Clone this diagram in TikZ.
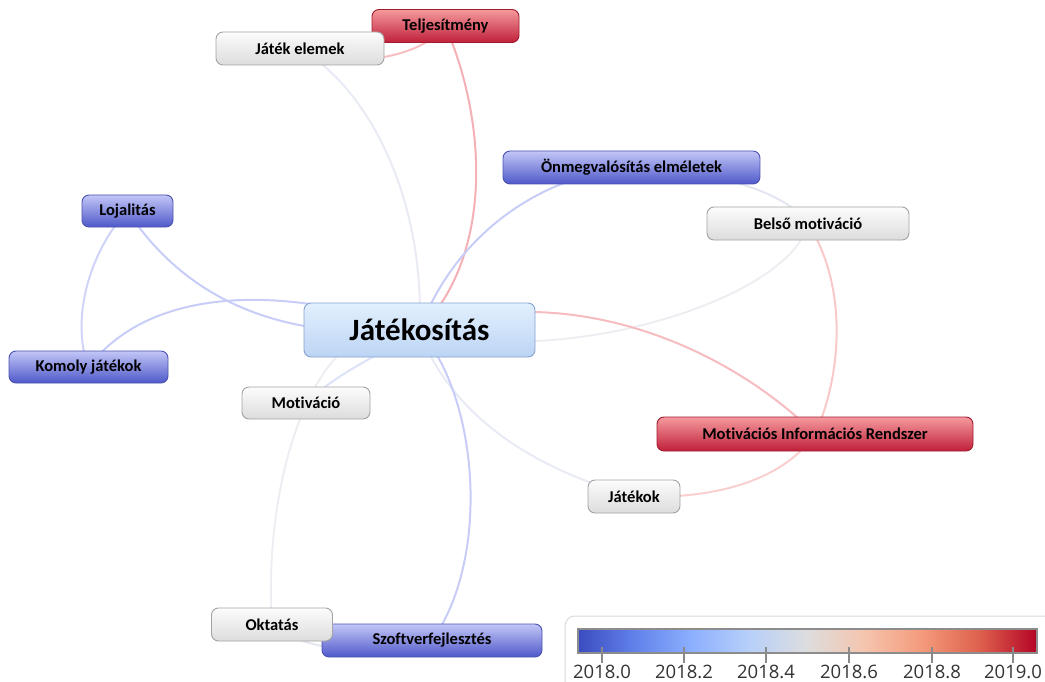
\documentclass[tikz,border=0pt]{standalone}
\usepackage{fontspec}
\setmainfont{Carlito}[Ligatures=NoCommon]
\newfontfamily\ticklabelfont{Open Sans}
\usetikzlibrary{backgrounds}

% node palettes
\definecolor{bluetop}{HTML}{C3C6F7}
\definecolor{bluebot}{HTML}{4F59C9}
\definecolor{blueline}{HTML}{4A52B0}
\definecolor{redtop}{HTML}{F59A9E}
\definecolor{redbot}{HTML}{C0203A}
\definecolor{redline}{HTML}{A11B2E}
\definecolor{graytop}{HTML}{FCFCFC}
\definecolor{graybot}{HTML}{DCDCDC}
\definecolor{grayline}{HTML}{A3A3A3}
\definecolor{maintop}{HTML}{E2F0FE}
\definecolor{mainbot}{HTML}{BCD4F4}
\definecolor{mainline}{HTML}{86A3CF}

% link colours
\definecolor{lkredA}{HTML}{F8BEC1}
\definecolor{lkredB}{HTML}{F5B0B5}
\definecolor{lkredC}{HTML}{F6BCBF}
\definecolor{lkpinkA}{HTML}{F9C8C8}
\definecolor{lkpinkB}{HTML}{FACFCF}
\definecolor{lkblue}{HTML}{C8CDF7}
\definecolor{lkblueB}{HTML}{D0D4F8}
\definecolor{lkblueC}{HTML}{DCE2F8}
\definecolor{lkgrayA}{HTML}{E8EBF4}
\definecolor{lkgrayB}{HTML}{ECEEF2}
\definecolor{lkgrayC}{HTML}{E3E6F0}

% colour scale (coolwarm)
\definecolor{cw0}{HTML}{3B4CC0}
\definecolor{cw1}{HTML}{6282EA}
\definecolor{cw2}{HTML}{8DB0FE}
\definecolor{cw3}{HTML}{B8D0F9}
\definecolor{cw4}{HTML}{DDDDDD}
\definecolor{cw5}{HTML}{F5C4AD}
\definecolor{cw6}{HTML}{F49A7B}
\definecolor{cw7}{HTML}{DE604D}
\definecolor{cw8}{HTML}{B40426}
\definecolor{legendframe}{HTML}{DADADA}
\definecolor{barframe}{HTML}{8C8C8C}
\definecolor{tickgray}{HTML}{8A8A8A}
\definecolor{ticktext}{HTML}{333333}

\pgfdeclarehorizontalshading{coolwarm}{100bp}{%
  color(0bp)=(cw0); color(25bp)=(cw0); color(31.25bp)=(cw1);
  color(37.5bp)=(cw2); color(43.75bp)=(cw3); color(50bp)=(cw4);
  color(56.25bp)=(cw5); color(62.5bp)=(cw6); color(68.75bp)=(cw7);
  color(75bp)=(cw8); color(100bp)=(cw8)}

\tikzset{
  box/.style={rounded corners=7pt, line width=0.9pt, inner sep=0pt,
    minimum height=33pt, text=black,
    font=\bfseries\fontsize{16.5}{19}\selectfont},
  bluebox/.style={box, top color=bluetop, bottom color=bluebot, draw=blueline},
  redbox/.style={box, top color=redtop, bottom color=redbot, draw=redline},
  graybox/.style={box, top color=graytop, bottom color=graybot, draw=grayline},
  mainbox/.style={box, top color=maintop, bottom color=mainbot, draw=mainline,
    font=\bfseries\fontsize{31}{36}\selectfont},
  link/.style={line width=2pt},
}

\begin{document}
\begin{tikzpicture}[x=1pt,y=-1pt]
\useasboundingbox (0,0) rectangle (1045,682);
\clip (0,0) rectangle (1045,682);

% topics
\node[redbox, minimum width=147pt] (tel) at (445.5,26) {Teljesítmény};
\node[graybox, minimum width=168pt] (jel) at (300,48.5) {Játék elemek};
\node[mainbox, minimum width=231pt, minimum height=54pt] (jat) at (419.5,330) {Játékosítás};
\node[bluebox, minimum width=257pt] (onm) at (631.5,167.5) {Önmegvalósítás elméletek};
\node[graybox, minimum width=202pt] (bel) at (808,223.5) {Belső motiváció};
\node[bluebox, minimum width=91pt, minimum height=32pt] (loj) at (127.5,211) {Lojalitás};
\node[bluebox, minimum width=159pt, minimum height=32pt] (kom) at (88.5,367) {Komoly játékok};
\node[graybox, minimum width=128pt, minimum height=32pt] (mot) at (306,403) {Motiváció};
\node[redbox, minimum width=316pt, minimum height=34pt] (mir) at (815,434) {Motivációs Információs Rendszer};
\node[graybox, minimum width=92pt] (jok) at (634,496.5) {Játékok};
\node[bluebox, minimum width=220pt] (szo) at (432,640.5) {Szoftverfejlesztés};
\node[graybox, minimum width=121pt] (okt) at (272,624.5) {Oktatás};

% co-occurrence links, behind the topics
\begin{scope}[on background layer]
\draw[link, lkredA] (tel.center) .. controls (420,58) and (350,70) .. (jel.center);
\draw[link, lkredB] (tel.center) .. controls (490,130) and (490,260) .. (jat.center);
\draw[link, lkgrayA] (jel.center) .. controls (370,90) and (425,200) .. (jat.center);
\draw[link, lkblue] (onm.center) .. controls (540,175) and (455,235) .. (jat.center);
\draw[link, lkgrayC] (onm.center) .. controls (720,170) and (790,195) .. (bel.center);
\draw[link, lkgrayB] (bel.center) .. controls (790,300) and (560,370) .. (jat.center);
\draw[link, lkpinkA] (bel.center) .. controls (850,290) and (840,380) .. (mir.center);
\draw[link, lkredC] (jat.center) .. controls (560,280) and (720,340) .. (mir.center);
\draw[link, lkpinkB] (mir.center) .. controls (785,478) and (720,500) .. (jok.center);
\draw[link, lkgrayA] (jat.center) .. controls (440,390) and (500,460) .. (jok.center);
\draw[link, lkblue] (jat.center) .. controls (480,400) and (490,560) .. (szo.center);
\draw[link, lkgrayB] (jat.center) .. controls (320,300) and (262,470) .. (okt.center);
\draw[link, lkgrayC] (okt.center) .. controls (300,650) and (380,660) .. (szo.center);
\draw[link, lkblue] (loj.center) .. controls (170,275) and (250,345) .. (jat.center);
\draw[link, lkblue] (kom.center) .. controls (140,300) and (250,275) .. (jat.center);
\draw[link, lkblueB] (loj.center) .. controls (90,250) and (70,320) .. (kom.center);
\draw[link, lkblueC] (jat.center) .. controls (390,350) and (340,370) .. (mot.center);
\end{scope}

% colour scale legend
\draw[legendframe, line width=1pt, rounded corners=10pt, fill=white]
  (565,616) rectangle (1075,720);
\shade[shading=coolwarm] (578,629) rectangle (1037,653);
\draw[barframe, line width=1.5pt] (578,629) rectangle (1037,653);
\foreach \x/\lab [count=\i] in {602/2018.0, 684/2018.2, 766/2018.4,
                                849/2018.6, 932/2018.8, 1013/2019.0} {
  \draw[tickgray, line width=2pt] (\x,647) -- (\x,663);
  \node[anchor=base, inner sep=0pt, text=ticktext,
        font=\ticklabelfont\fontsize{18.5}{22}\selectfont] (tick\i) at (\x,678.5) {\lab};
}
\end{tikzpicture}
\end{document}
